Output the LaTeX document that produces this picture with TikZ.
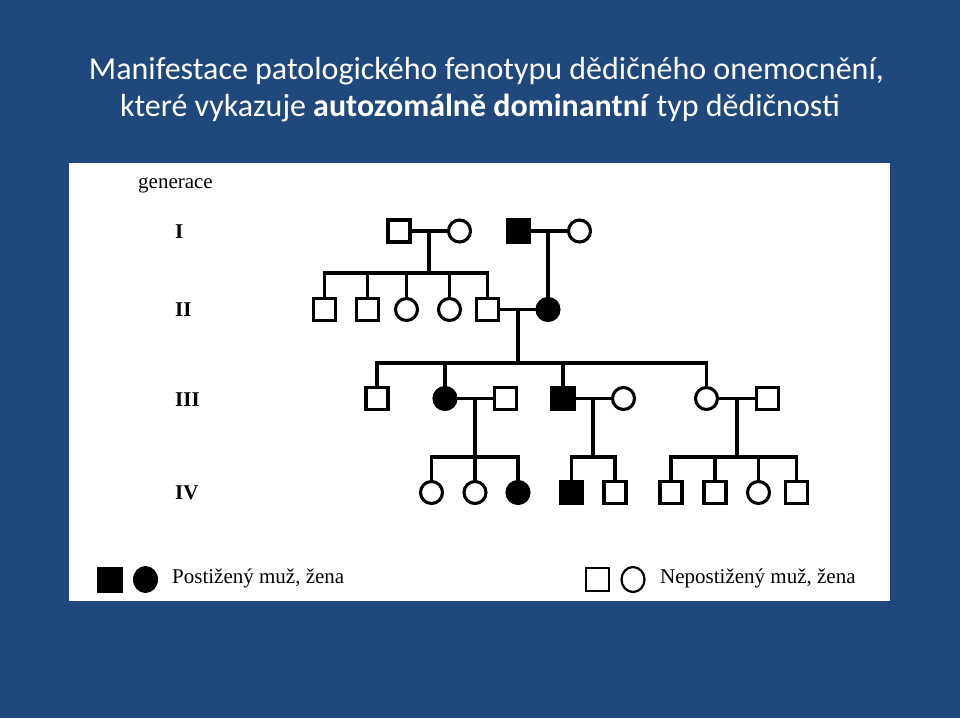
\documentclass[tikz,border=0pt]{standalone}
\usepackage{fontspec}
\usetikzlibrary{shapes.geometric}
\setmainfont{Liberation Serif}
\newfontfamily\titlefont{Carlito}
\definecolor{bgblue}{RGB}{31,73,125}
\begin{document}
\begin{tikzpicture}[x=1pt,y=-1pt,
  person/.style={draw=black,line width=3.1pt,inner sep=0pt,minimum size=22pt,fill=white},
  male/.style={person,rectangle},
  female/.style={person,circle},
  aff/.style={fill=black},
  ln/.style={line width=3.1pt,line cap=rect},
  gen/.style={font=\fontsize{21}{24}\selectfont\bfseries,anchor=west,inner sep=0pt},
  legtext/.style={font=\fontsize{21}{24}\selectfont,anchor=west,inner sep=0pt},
  titletext/.style={font=\titlefont\fontsize{32}{38}\selectfont,text=white,inner sep=0pt}
]
\fill[bgblue] (0,0) rectangle (960,718);
\useasboundingbox (0,0) rectangle (960,718);
\fill[white] (69,163) rectangle (890,601);

% title
\node[titletext] (t1) at (486.5,71) {Manifestace patologického fenotypu dědičného onemocnění,};
\node[titletext] (t2) at (480,108) {které vykazuje \textbf{autozomálně dominantní} typ dědičnosti};

% labels
\node[legtext] (lg) at (138,185) {generace};
\node[gen] (g1) at (175,232) {I};
\node[gen] (g2) at (175,310) {II};
\node[gen] (g3) at (175,400) {III};
\node[gen] (g4) at (175,492.5) {IV};

% generation I
\node[male] (i1) at (399,231) {};
\node[female] (i2) at (459.5,231) {};
\node[male,aff] (i3) at (518.5,231) {};
\node[female] (i4) at (579.5,231) {};
% generation II
\node[male] (ii1) at (324.5,309.5) {};
\node[male] (ii2) at (367.5,309.5) {};
\node[female] (ii3) at (406.5,309.5) {};
\node[female] (ii4) at (449.5,309.5) {};
\node[male] (ii5) at (487.5,309.5) {};
\node[female,aff] (ii6) at (548,309.5) {};
% generation III
\node[male] (iii1) at (377,398.5) {};
\node[female,aff] (iii2) at (445,398.5) {};
\node[male] (iii3) at (505.5,398.5) {};
\node[male,aff] (iii4) at (563,398.5) {};
\node[female] (iii5) at (623.5,398.5) {};
\node[female] (iii6) at (706.5,398.5) {};
\node[male] (iii7) at (767.5,398.5) {};
% generation IV
\node[female] (iv1) at (431.5,492.5) {};
\node[female] (iv2) at (475,492.5) {};
\node[female,aff] (iv3) at (518,492.5) {};
\node[male,aff] (iv4) at (571.5,492.5) {};
\node[male] (iv5) at (615,492.5) {};
\node[male] (iv6) at (671,492.5) {};
\node[male] (iv7) at (715,492.5) {};
\node[female] (iv8) at (758.5,492.5) {};
\node[male] (iv9) at (796.5,492.5) {};

% marriage points and sibship lines
\coordinate (m1) at (429,231);
\coordinate (m2) at (548,231);
\coordinate (m3) at (518,309.5);
\coordinate (m4) at (475,398.5);
\coordinate (m5) at (593,398.5);
\coordinate (m6) at (737,398.5);
\coordinate (s1) at (429,273);
\coordinate (s3) at (518,363);
\coordinate (s4) at (475,457);
\coordinate (s5) at (593,457);
\coordinate (s6) at (737,457);

\begin{scope}[ln]
% marriages
\draw (i1.east) -- (i2.west);
\draw (i3.east) -- (i4.west);
\draw (ii5.east) -- (ii6.west);
\draw (iii2.east) -- (iii3.west);
\draw (iii4.east) -- (iii5.west);
\draw (iii6.east) -- (iii7.west);
% descent lines
\draw (m1) -- (s1);
\draw (m2) -- (ii6.north);
\draw (m3) -- (s3);
\draw (m4) -- (s4);
\draw (m5) -- (s5);
\draw (m6) -- (s6);
% sibship I1xI2
\draw (ii1.north |- s1) -- (ii5.north |- s1);
\foreach \c in {ii1,ii2,ii3,ii4,ii5} \draw (\c.north) -- (\c.north |- s1);
% sibship II5xII6
\draw (iii1.north |- s3) -- (iii6.north |- s3);
\foreach \c in {iii1,iii2,iii4,iii6} \draw (\c.north) -- (\c.north |- s3);
% sibship III2xIII3
\draw (iv1.north |- s4) -- (iv3.north |- s4);
\foreach \c in {iv1,iv2,iv3} \draw (\c.north) -- (\c.north |- s4);
% sibship III4xIII5
\draw (iv4.north |- s5) -- (iv5.north |- s5);
\foreach \c in {iv4,iv5} \draw (\c.north) -- (\c.north |- s5);
% sibship III6xIII7
\draw (iv6.north |- s6) -- (iv9.north |- s6);
\foreach \c in {iv6,iv7,iv8,iv9} \draw (\c.north) -- (\c.north |- s6);
\end{scope}

% legend
\node[fill=black,inner sep=0pt,minimum size=26pt] (la) at (110,579.5) {};
\node[fill=black,ellipse,inner sep=0pt,minimum width=25pt,minimum height=27pt] (lb) at (145.5,579.5) {};
\node[legtext] (lt1) at (172,578) {Postižený muž, žena};
\node[draw=black,line width=2.2pt,inner sep=0pt,minimum size=23pt] (lc) at (597.5,579.5) {};
\node[draw=black,line width=2.2pt,ellipse,inner sep=0pt,minimum width=23pt,minimum height=25pt] (ld) at (633,579.5) {};
\node[legtext] (lt2) at (660,578) {Nepostižený muž, žena};
\end{tikzpicture}
\end{document}
